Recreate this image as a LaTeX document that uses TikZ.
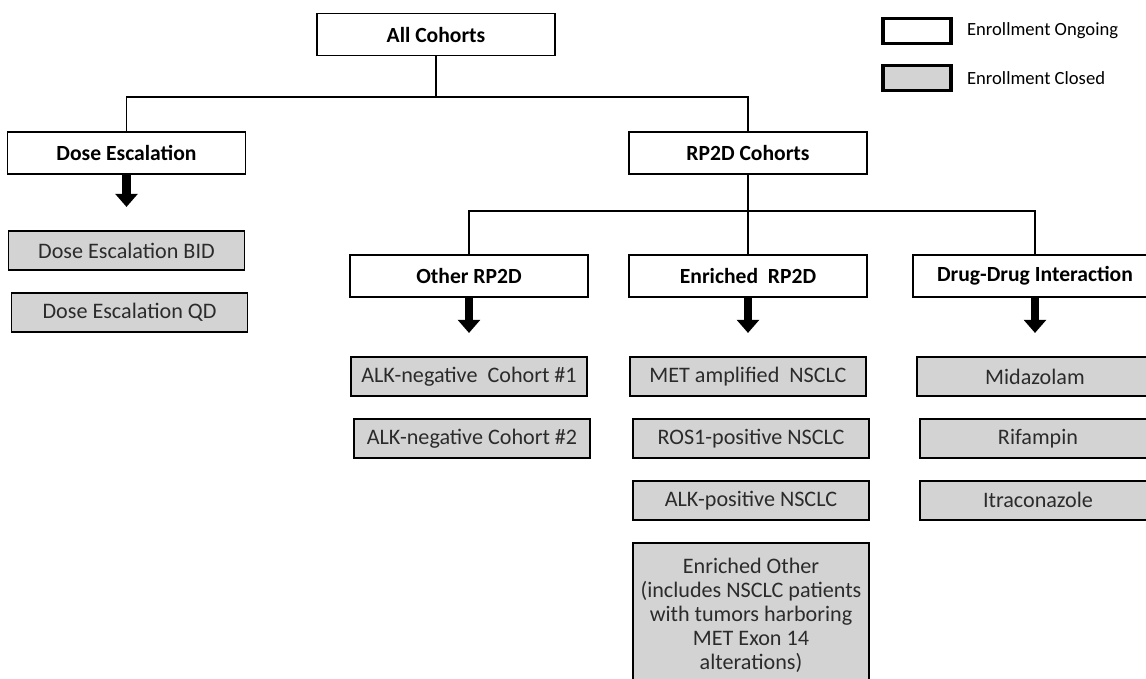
\documentclass[tikz,border=0pt]{standalone}
\usepackage{fontspec}
\setmainfont{Carlito}
\usepackage{xcolor}
\usepackage{tikz}
\usetikzlibrary{arrows.meta,positioning}
\definecolor{closedgray}{HTML}{D3D3D3}
\definecolor{closedtext}{HTML}{2B2B2B}
\tikzset{
  cohort/.style={draw=black, line width=1.1pt, fill=white, align=center, inner sep=2pt, minimum width=4.76cm, minimum height=0.84cm, font=\fontsize{12.3}{14}\selectfont\bfseries},
  closed/.style={draw=black, line width=1.1pt, fill=closedgray, align=center, inner sep=2pt, minimum width=4.72cm, minimum height=0.78cm, text=closedtext, font=\fontsize{12.6}{13.6}\selectfont},
  keybox/.style={draw=black, line width=2pt, inner sep=0pt, minimum width=1.36cm, minimum height=0.5cm},
  keytext/.style={anchor=west, inner sep=0pt, font=\fontsize{10.6}{12}\selectfont},
  branch/.style={draw=black, line width=1pt},
  thinbranch/.style={draw=black, line width=0.6pt},
  arrow/.style={-{Triangle[width=12.5pt,length=7.5pt]}, line width=4.6pt, draw=black, shorten >=0.46cm}
}

\begin{document}
\begin{tikzpicture}[x=0.02cm, y=-0.02cm, node distance=0.42cm]
  \clip (0,0) rectangle (1146,679);
  % legend
  \node[keybox, fill=white] (keyopen) at (917,31) {};
  \node[keybox, fill=closedgray] (keyclosed) at (917,78) {};
  \node[keytext, right=0.28cm of keyopen] (keyopentext) {Enrollment Ongoing};
  \node[keytext, right=0.28cm of keyclosed] (keyclosedtext) {Enrollment Closed};

  % headers
  \node[cohort] (all) at (436,34.5) {All Cohorts};
  \node[cohort] (dose) at (126.5,153) {Dose Escalation};
  \node[cohort] (rp2d) at (748,153) {RP2D Cohorts};
  \node[cohort] (other) at (469,276) {Other RP2D};
  \node[cohort] (enriched) at (748,276) {Enriched\ \ RP2D};
  \node[cohort, minimum width=4.9cm] (ddi) at (1035,276) {Drug-Drug Interaction};

  % closed cohorts
  \node[closed, below=1.1cm of dose] (bid) {Dose Escalation BID};
  \node[closed, below=of bid, xshift=0.06cm] (qd) {Dose Escalation QD};
  \node[closed, below=1.16cm of other] (alkneg1) {ALK-negative\ \ Cohort \#1};
  \node[closed, below=of alkneg1, xshift=0.06cm] (alkneg2) {ALK-negative Cohort \#2};
  \node[closed, below=1.16cm of enriched] (met) {MET amplified\ \ NSCLC};
  \node[closed, below=of met, xshift=0.06cm] (ros1) {ROS1-positive NSCLC};
  \node[closed, below=of ros1] (alkpos) {ALK-positive NSCLC};
  \node[closed, below=of alkpos, inner ysep=9pt] (enrichedother) {Enriched Other\\(includes NSCLC patients\\with tumors harboring\\MET Exon 14\\alterations)};
  \node[closed, below=1.16cm of ddi] (midazolam) {Midazolam};
  \node[closed, below=of midazolam, xshift=0.06cm] (rifampin) {Rifampin};
  \node[closed, below=of rifampin] (itraconazole) {Itraconazole};

  % tree lines
  \coordinate (trunk) at (436,97);
  \coordinate (rptrunk) at (748,211);
  \draw[thinbranch] (all) -- (trunk);
  \draw[branch] (dose.north) |- (trunk) -| (rp2d.north);
  \draw[branch] (rp2d) -- (rptrunk);
  \draw[branch] (rptrunk) -- (enriched);
  \draw[thinbranch] (other.north) |- (rptrunk) -| (ddi.north);

  % block arrows
  \draw[arrow] (dose.south) -- (dose.south |- bid.north);
  \draw[arrow] (other.south) -- (other.south |- alkneg1.north);
  \draw[arrow] (enriched.south) -- (enriched.south |- met.north);
  \draw[arrow] (ddi.south) -- (ddi.south |- midazolam.north);
\end{tikzpicture}
\end{document}
